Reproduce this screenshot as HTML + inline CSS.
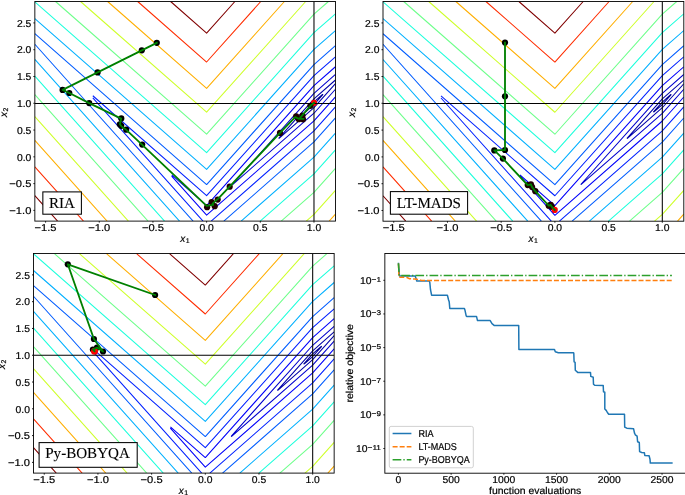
<!DOCTYPE html>
<html><head><meta charset="utf-8"><style>
html,body{margin:0;padding:0;background:#fff;}
body{width:685px;height:495px;overflow:hidden;}
svg{display:block;will-change:transform;}
text{stroke:#000;stroke-width:0.2px;text-rendering:geometricPrecision;}
</style></head><body>
<svg width="685" height="495" viewBox="0 0 685 495" font-family='"Liberation Sans", sans-serif' fill="#000">
<rect width="685" height="495" fill="#fff"/>
<clipPath id="c1"><rect x="34.85" y="1.5" width="300.6" height="219.6"/></clipPath>
<g clip-path="url(#c1)">
<path d="M305.39,112.09 305.16,111.84 313.98,101.98 322.57,94.44 322.8,94.7 313.98,104.55 305.39,112.09" stroke="#000096" stroke-width="1.05" fill="none" stroke-linejoin="round"/>
<path d="M335.45,83.69 313.98,107.68 279.09,138.32 278.87,138.08 279.09,137.84 279.31,137.81 279.35,137.54 313.98,98.85 335.45,79.99" stroke="#0000a8" stroke-width="1.05" fill="none" stroke-linejoin="round"/>
<path d="M335.45,89.23 313.98,113.23 232.92,184.4 232.69,184.14 313.98,93.3 335.45,74.45" stroke="#0000cd" stroke-width="1.05" fill="none" stroke-linejoin="round"/>
<path d="M335.45,96.95 313.98,120.94 206.62,215.21 171.63,176.11 M171.73,174.93 206.62,205.57 313.98,85.59 335.45,66.74" stroke="#0000fa" stroke-width="1.05" fill="none" stroke-linejoin="round"/>
<path d="M203.03,221.1 92.82,97.94 M92.82,95.74 206.62,195.66 313.98,75.68 335.45,56.83 M335.45,106.85 313.98,130.85 211.2,221.1" stroke="#0020ff" stroke-width="1.05" fill="none" stroke-linejoin="round"/>
<path d="M193.08,221.1 34.85,44.27 M335.45,117.97 313.98,141.96 223.85,221.1 M34.85,33.72 206.62,184.54 313.98,64.57 335.45,45.71" stroke="#005cff" stroke-width="1.05" fill="none" stroke-linejoin="round"/>
<path d="M179.49,221.1 34.85,59.45 M335.45,133.15 313.98,157.15 241.15,221.1 M34.85,18.53 206.62,169.36 313.98,49.38 335.45,30.53" stroke="#00b0ff" stroke-width="1.05" fill="none" stroke-linejoin="round"/>
<path d="M164.54,221.1 34.85,76.16 M335.45,149.86 313.98,173.86 260.18,221.1 M34.85,1.82 206.62,152.65 313.98,32.67 335.45,13.82" stroke="#1cffdb" stroke-width="1.05" fill="none" stroke-linejoin="round"/>
<path d="M148.01,221.1 34.85,94.64 M335.45,168.34 313.98,192.34 281.22,221.1 M55.53,1.5 206.62,134.17 313.98,14.19 328.44,1.5" stroke="#6dff8a" stroke-width="1.05" fill="none" stroke-linejoin="round"/>
<path d="M128.36,221.1 34.85,116.6 M335.45,190.3 313.98,214.3 306.23,221.1 M80.54,1.5 206.62,112.21 305.69,1.5" stroke="#ceff29" stroke-width="1.05" fill="none" stroke-linejoin="round"/>
<path d="M107.08,221.1 34.85,140.38 M335.45,214.08 329.17,221.1 M107.62,1.5 206.62,88.43 284.41,1.5" stroke="#ffae00" stroke-width="1.05" fill="none" stroke-linejoin="round"/>
<path d="M83.45,221.1 34.85,166.79 M137.69,1.5 206.62,62.02 260.78,1.5" stroke="#ff2d00" stroke-width="1.05" fill="none" stroke-linejoin="round"/>
<path d="M57.57,221.1 34.85,195.71 M170.63,1.5 206.62,33.1 234.9,1.5" stroke="#800000" stroke-width="1.05" fill="none" stroke-linejoin="round"/>
<line x1="313.98" y1="1.5" x2="313.98" y2="221.1" stroke="#000" stroke-width="1.05"/>
<circle cx="314" cy="102.8" r="3.1" fill="#ff0000"/>
<circle cx="156.8" cy="42.8" r="3.1" fill="#000000"/>
<circle cx="141.8" cy="50.3" r="3.1" fill="#000000"/>
<circle cx="97.6" cy="72.4" r="3.1" fill="#000000"/>
<circle cx="62.6" cy="89.9" r="3.1" fill="#000000"/>
<circle cx="69.3" cy="93" r="3.1" fill="#000000"/>
<circle cx="89.2" cy="103.1" r="3.1" fill="#000000"/>
<circle cx="121.3" cy="118.4" r="3.1" fill="#000000"/>
<circle cx="119.8" cy="124.3" r="3.1" fill="#000000"/>
<circle cx="121.2" cy="125.8" r="3.1" fill="#000000"/>
<circle cx="126.2" cy="129.7" r="3.1" fill="#000000"/>
<circle cx="142.2" cy="144.6" r="3.1" fill="#000000"/>
<circle cx="207.1" cy="207.2" r="3.1" fill="#200000"/>
<circle cx="211.6" cy="202.1" r="3.1" fill="#200000"/>
<circle cx="214.7" cy="206.2" r="3.1" fill="#200000"/>
<circle cx="217.7" cy="199.6" r="3.1" fill="#200000"/>
<circle cx="229.7" cy="186.7" r="3.1" fill="#200000"/>
<circle cx="280" cy="132.9" r="3.1" fill="#200000"/>
<circle cx="296.2" cy="116.3" r="3.1" fill="#200000"/>
<circle cx="298.8" cy="119.2" r="3.1" fill="#200000"/>
<circle cx="303" cy="119.3" r="3.1" fill="#200000"/>
<circle cx="302.5" cy="115.6" r="3.1" fill="#200000"/>
<circle cx="310.4" cy="105.8" r="3.1" fill="#200000"/>
<line x1="34.85" y1="103.47" x2="335.45" y2="103.47" stroke="#000" stroke-width="1.05"/>
<polyline points="156.8,42.8 141.8,50.3 97.6,72.4 62.6,89.9 69.3,93 89.2,103.1 121.2,118.6 120,124.3 121.6,126.5 126,129.6 142,144.6 206.6,205.8 213.2,204.9 212.6,203.6 218.2,198.6 229.6,186.6 280,132.9 295.2,117.2 299,118.8 303.6,118.8 299.5,118.6 310.4,105.8 314,102.8" fill="none" stroke="#008000" stroke-width="1.85" stroke-linejoin="round" stroke-linecap="square"/>
</g>
<rect x="42.85" y="191.9" width="38.55" height="22.3" fill="#fff" stroke="#000" stroke-width="1.05"/>
<text x="48.9" y="207.8" font-family='"Liberation Serif", serif' font-size="15.1" style="stroke-width:0.1px">RIA</text>
<rect x="34.85" y="1.5" width="300.6" height="219.6" fill="none" stroke="#000" stroke-width="0.9"/>
<line x1="45.59" y1="221.1" x2="45.59" y2="222.6" stroke="#000" stroke-width="0.9"/>
<text x="45.59" y="230.9" text-anchor="middle" font-size="10.0" textLength="21.98" lengthAdjust="spacingAndGlyphs">−1.5</text>
<line x1="99.26" y1="221.1" x2="99.26" y2="222.6" stroke="#000" stroke-width="0.9"/>
<text x="99.26" y="230.9" text-anchor="middle" font-size="10.0" textLength="21.98" lengthAdjust="spacingAndGlyphs">−1.0</text>
<line x1="152.94" y1="221.1" x2="152.94" y2="222.6" stroke="#000" stroke-width="0.9"/>
<text x="152.94" y="230.9" text-anchor="middle" font-size="10.0" textLength="21.98" lengthAdjust="spacingAndGlyphs">−0.5</text>
<line x1="206.62" y1="221.1" x2="206.62" y2="222.6" stroke="#000" stroke-width="0.9"/>
<text x="206.62" y="230.9" text-anchor="middle" font-size="10.0" textLength="14.39" lengthAdjust="spacingAndGlyphs">0.0</text>
<line x1="260.3" y1="221.1" x2="260.3" y2="222.6" stroke="#000" stroke-width="0.9"/>
<text x="260.3" y="230.9" text-anchor="middle" font-size="10.0" textLength="14.39" lengthAdjust="spacingAndGlyphs">0.5</text>
<line x1="313.98" y1="221.1" x2="313.98" y2="222.6" stroke="#000" stroke-width="0.9"/>
<text x="313.98" y="230.9" text-anchor="middle" font-size="10.0" textLength="14.39" lengthAdjust="spacingAndGlyphs">1.0</text>
<line x1="34.85" y1="22.92" x2="33.35" y2="22.92" stroke="#000" stroke-width="0.9"/>
<text x="31.35" y="26.67" text-anchor="end" font-size="10.0" textLength="14.39" lengthAdjust="spacingAndGlyphs">2.5</text>
<line x1="34.85" y1="49.7" x2="33.35" y2="49.7" stroke="#000" stroke-width="0.9"/>
<text x="31.35" y="53.45" text-anchor="end" font-size="10.0" textLength="14.39" lengthAdjust="spacingAndGlyphs">2.0</text>
<line x1="34.85" y1="76.49" x2="33.35" y2="76.49" stroke="#000" stroke-width="0.9"/>
<text x="31.35" y="80.24" text-anchor="end" font-size="10.0" textLength="14.39" lengthAdjust="spacingAndGlyphs">1.5</text>
<line x1="34.85" y1="103.27" x2="33.35" y2="103.27" stroke="#000" stroke-width="0.9"/>
<text x="31.35" y="107.02" text-anchor="end" font-size="10.0" textLength="14.39" lengthAdjust="spacingAndGlyphs">1.0</text>
<line x1="34.85" y1="130.05" x2="33.35" y2="130.05" stroke="#000" stroke-width="0.9"/>
<text x="31.35" y="133.8" text-anchor="end" font-size="10.0" textLength="14.39" lengthAdjust="spacingAndGlyphs">0.5</text>
<line x1="34.85" y1="156.83" x2="33.35" y2="156.83" stroke="#000" stroke-width="0.9"/>
<text x="31.35" y="160.58" text-anchor="end" font-size="10.0" textLength="14.39" lengthAdjust="spacingAndGlyphs">0.0</text>
<line x1="34.85" y1="183.61" x2="33.35" y2="183.61" stroke="#000" stroke-width="0.9"/>
<text x="31.35" y="187.36" text-anchor="end" font-size="10.0" textLength="21.98" lengthAdjust="spacingAndGlyphs">−0.5</text>
<line x1="34.85" y1="210.39" x2="33.35" y2="210.39" stroke="#000" stroke-width="0.9"/>
<text x="31.35" y="214.14" text-anchor="end" font-size="10.0" textLength="21.98" lengthAdjust="spacingAndGlyphs">−1.0</text>
<text x="180.15" y="241.9" font-size="10"><tspan font-style="italic">x</tspan><tspan font-size="6.9" dx="0.5" dy="1.2">1</tspan></text>
<text transform="translate(6.5,117) rotate(-90)" font-size="10"><tspan font-style="italic">x</tspan><tspan font-size="6.9" dx="0.5" dy="1.2">2</tspan></text>
<clipPath id="c2"><rect x="383" y="1.5" width="300.8" height="219.7"/></clipPath>
<g clip-path="url(#c2)">
<path d="M653.72,112.14 653.49,111.89 662.31,102.03 670.91,94.48 671.14,94.74 662.31,104.6 653.72,112.14" stroke="#000096" stroke-width="1.05" fill="none" stroke-linejoin="round"/>
<path d="M683.8,83.73 662.31,107.73 627.4,138.38 627.18,138.14 627.4,137.9 627.62,137.87 627.66,137.61 662.31,98.89 683.8,80.03" stroke="#0000a8" stroke-width="1.05" fill="none" stroke-linejoin="round"/>
<path d="M683.8,89.27 662.31,113.28 581.21,184.48 580.98,184.23 662.31,93.35 683.8,74.48" stroke="#0000cd" stroke-width="1.05" fill="none" stroke-linejoin="round"/>
<path d="M683.8,96.99 662.31,121 554.89,215.31 519.88,176.19 M519.97,175.01 554.89,205.66 662.31,85.63 683.8,66.77" stroke="#0000fa" stroke-width="1.05" fill="none" stroke-linejoin="round"/>
<path d="M551.29,221.2 441.01,97.99 M441.01,95.78 554.89,195.75 662.31,75.72 683.8,56.85 M683.8,106.9 662.31,130.91 559.46,221.2" stroke="#0020ff" stroke-width="1.05" fill="none" stroke-linejoin="round"/>
<path d="M541.34,221.2 383,44.29 M683.8,118.02 662.31,142.03 572.13,221.2 M383,33.73 554.89,184.63 662.31,64.6 683.8,45.73" stroke="#005cff" stroke-width="1.05" fill="none" stroke-linejoin="round"/>
<path d="M527.74,221.2 383,59.48 M683.8,133.21 662.31,157.22 589.43,221.2 M383,18.54 554.89,169.44 662.31,49.41 683.8,30.54" stroke="#00b0ff" stroke-width="1.05" fill="none" stroke-linejoin="round"/>
<path d="M512.78,221.2 383,76.2 M683.8,149.93 662.31,173.94 608.48,221.2 M383,1.82 554.89,152.72 662.31,32.69 683.8,13.82" stroke="#1cffdb" stroke-width="1.05" fill="none" stroke-linejoin="round"/>
<path d="M496.23,221.2 383,94.68 M683.8,168.42 662.31,192.42 629.54,221.2 M403.69,1.5 554.89,134.23 662.31,14.2 676.78,1.5" stroke="#6dff8a" stroke-width="1.05" fill="none" stroke-linejoin="round"/>
<path d="M476.57,221.2 383,116.65 M683.8,190.39 662.31,214.39 654.56,221.2 M428.72,1.5 554.89,112.26 654.02,1.5" stroke="#ceff29" stroke-width="1.05" fill="none" stroke-linejoin="round"/>
<path d="M455.27,221.2 383,140.45 M683.8,214.18 677.52,221.2 M455.82,1.5 554.89,88.47 632.72,1.5" stroke="#ffae00" stroke-width="1.05" fill="none" stroke-linejoin="round"/>
<path d="M431.63,221.2 383,166.86 M485.91,1.5 554.89,62.05 609.08,1.5" stroke="#ff2d00" stroke-width="1.05" fill="none" stroke-linejoin="round"/>
<path d="M405.73,221.2 383,195.8 M518.87,1.5 554.89,33.12 583.18,1.5" stroke="#800000" stroke-width="1.05" fill="none" stroke-linejoin="round"/>
<line x1="662.31" y1="1.5" x2="662.31" y2="221.2" stroke="#000" stroke-width="1.05"/>
<circle cx="505" cy="42.6" r="3.1" fill="#000000"/>
<circle cx="505" cy="96.3" r="3.1" fill="#000000"/>
<circle cx="505" cy="150" r="3.1" fill="#000000"/>
<circle cx="494.3" cy="150.4" r="3.1" fill="#000000"/>
<circle cx="502.9" cy="158.6" r="3.1" fill="#000000"/>
<circle cx="527.7" cy="185.1" r="3.1" fill="#200000"/>
<circle cx="530.9" cy="184.3" r="3.1" fill="#200000"/>
<circle cx="532.1" cy="187.1" r="3.1" fill="#200000"/>
<circle cx="535.3" cy="191.2" r="3.1" fill="#200000"/>
<circle cx="548.7" cy="205.7" r="3.1" fill="#200000"/>
<circle cx="550.7" cy="204.9" r="3.1" fill="#200000"/>
<circle cx="551.9" cy="206.9" r="3.1" fill="#200000"/>
<circle cx="554.7" cy="209.9" r="3.1" fill="#ff0000"/>
<line x1="383" y1="103.51" x2="683.8" y2="103.51" stroke="#000" stroke-width="1.05"/>
<polyline points="505,42.6 505,96.3 505,150 494.3,150.4 502.9,158.6 527.7,185.1 530.9,184.3 532.1,187.1 535.3,191.2 548.7,205.7 550.7,204.9 551.9,206.9 554.7,209.9" fill="none" stroke="#008000" stroke-width="1.85" stroke-linejoin="round" stroke-linecap="square"/>
</g>
<rect x="390.4" y="191.6" width="77.2" height="22.6" fill="#fff" stroke="#000" stroke-width="1.05"/>
<text x="396.7" y="207.7" font-family='"Liberation Serif", serif' font-size="15.1" style="stroke-width:0.1px">LT-MADS</text>
<rect x="383" y="1.5" width="300.8" height="219.7" fill="none" stroke="#000" stroke-width="0.9"/>
<line x1="393.74" y1="221.2" x2="393.74" y2="222.7" stroke="#000" stroke-width="0.9"/>
<text x="393.74" y="231" text-anchor="middle" font-size="10.0" textLength="21.98" lengthAdjust="spacingAndGlyphs">−1.5</text>
<line x1="447.46" y1="221.2" x2="447.46" y2="222.7" stroke="#000" stroke-width="0.9"/>
<text x="447.46" y="231" text-anchor="middle" font-size="10.0" textLength="21.98" lengthAdjust="spacingAndGlyphs">−1.0</text>
<line x1="501.17" y1="221.2" x2="501.17" y2="222.7" stroke="#000" stroke-width="0.9"/>
<text x="501.17" y="231" text-anchor="middle" font-size="10.0" textLength="21.98" lengthAdjust="spacingAndGlyphs">−0.5</text>
<line x1="554.89" y1="221.2" x2="554.89" y2="222.7" stroke="#000" stroke-width="0.9"/>
<text x="554.89" y="231" text-anchor="middle" font-size="10.0" textLength="14.39" lengthAdjust="spacingAndGlyphs">0.0</text>
<line x1="608.6" y1="221.2" x2="608.6" y2="222.7" stroke="#000" stroke-width="0.9"/>
<text x="608.6" y="231" text-anchor="middle" font-size="10.0" textLength="14.39" lengthAdjust="spacingAndGlyphs">0.5</text>
<line x1="662.31" y1="221.2" x2="662.31" y2="222.7" stroke="#000" stroke-width="0.9"/>
<text x="662.31" y="231" text-anchor="middle" font-size="10.0" textLength="14.39" lengthAdjust="spacingAndGlyphs">1.0</text>
<line x1="383" y1="22.93" x2="381.5" y2="22.93" stroke="#000" stroke-width="0.9"/>
<text x="379.5" y="26.68" text-anchor="end" font-size="10.0" textLength="14.39" lengthAdjust="spacingAndGlyphs">2.5</text>
<line x1="383" y1="49.73" x2="381.5" y2="49.73" stroke="#000" stroke-width="0.9"/>
<text x="379.5" y="53.48" text-anchor="end" font-size="10.0" textLength="14.39" lengthAdjust="spacingAndGlyphs">2.0</text>
<line x1="383" y1="76.52" x2="381.5" y2="76.52" stroke="#000" stroke-width="0.9"/>
<text x="379.5" y="80.27" text-anchor="end" font-size="10.0" textLength="14.39" lengthAdjust="spacingAndGlyphs">1.5</text>
<line x1="383" y1="103.31" x2="381.5" y2="103.31" stroke="#000" stroke-width="0.9"/>
<text x="379.5" y="107.06" text-anchor="end" font-size="10.0" textLength="14.39" lengthAdjust="spacingAndGlyphs">1.0</text>
<line x1="383" y1="130.1" x2="381.5" y2="130.1" stroke="#000" stroke-width="0.9"/>
<text x="379.5" y="133.85" text-anchor="end" font-size="10.0" textLength="14.39" lengthAdjust="spacingAndGlyphs">0.5</text>
<line x1="383" y1="156.9" x2="381.5" y2="156.9" stroke="#000" stroke-width="0.9"/>
<text x="379.5" y="160.65" text-anchor="end" font-size="10.0" textLength="14.39" lengthAdjust="spacingAndGlyphs">0.0</text>
<line x1="383" y1="183.69" x2="381.5" y2="183.69" stroke="#000" stroke-width="0.9"/>
<text x="379.5" y="187.44" text-anchor="end" font-size="10.0" textLength="21.98" lengthAdjust="spacingAndGlyphs">−0.5</text>
<line x1="383" y1="210.48" x2="381.5" y2="210.48" stroke="#000" stroke-width="0.9"/>
<text x="379.5" y="214.23" text-anchor="end" font-size="10.0" textLength="21.98" lengthAdjust="spacingAndGlyphs">−1.0</text>
<text x="528.4" y="242" font-size="10"><tspan font-style="italic">x</tspan><tspan font-size="6.9" dx="0.5" dy="1.2">1</tspan></text>
<text transform="translate(354.65,117.05) rotate(-90)" font-size="10"><tspan font-style="italic">x</tspan><tspan font-size="6.9" dx="0.5" dy="1.2">2</tspan></text>
<clipPath id="c3"><rect x="33.5" y="253.45" width="300.65" height="219.65"/></clipPath>
<g clip-path="url(#c3)">
<path d="M304.08,364.07 303.85,363.81 312.68,353.95 321.27,346.41 321.5,346.67 312.68,356.52 304.08,364.07" stroke="#000096" stroke-width="1.05" fill="none" stroke-linejoin="round"/>
<path d="M334.15,335.66 312.68,359.66 277.78,390.3 277.56,390.06 277.78,389.82 278,389.79 278.04,389.53 312.68,350.82 334.15,331.96" stroke="#0000a8" stroke-width="1.05" fill="none" stroke-linejoin="round"/>
<path d="M334.15,341.2 312.68,365.2 231.61,436.39 231.38,436.13 312.68,345.27 334.15,326.42" stroke="#0000cd" stroke-width="1.05" fill="none" stroke-linejoin="round"/>
<path d="M334.15,348.92 312.68,372.92 205.3,467.21 170.31,428.1 M170.4,426.92 205.3,457.56 312.68,337.56 334.15,318.7" stroke="#0000fa" stroke-width="1.05" fill="none" stroke-linejoin="round"/>
<path d="M201.7,473.1 91.48,349.91 M91.48,347.71 205.3,447.65 312.67,327.65 334.15,308.79 M334.15,358.83 312.68,382.83 209.88,473.1" stroke="#0020ff" stroke-width="1.05" fill="none" stroke-linejoin="round"/>
<path d="M191.76,473.1 33.5,296.23 M334.15,369.94 312.68,393.95 222.53,473.1 M33.5,285.67 205.3,436.54 312.68,316.53 334.15,297.67" stroke="#005cff" stroke-width="1.05" fill="none" stroke-linejoin="round"/>
<path d="M178.17,473.1 33.5,311.42 M334.15,385.13 312.68,409.13 239.83,473.1 M33.5,270.49 205.3,421.35 312.68,301.34 334.15,282.49" stroke="#00b0ff" stroke-width="1.05" fill="none" stroke-linejoin="round"/>
<path d="M163.21,473.1 33.5,328.13 M334.15,401.85 312.68,425.85 258.87,473.1 M33.5,253.77 205.3,404.63 312.68,284.63 334.15,265.77" stroke="#1cffdb" stroke-width="1.05" fill="none" stroke-linejoin="round"/>
<path d="M146.68,473.1 33.5,346.61 M334.15,420.33 312.68,444.33 279.91,473.1 M54.18,253.45 205.3,386.15 312.68,266.15 327.13,253.45" stroke="#6dff8a" stroke-width="1.05" fill="none" stroke-linejoin="round"/>
<path d="M127.02,473.1 33.5,368.58 M334.15,442.3 312.68,466.3 304.93,473.1 M79.2,253.45 205.3,364.19 304.38,253.45" stroke="#ceff29" stroke-width="1.05" fill="none" stroke-linejoin="round"/>
<path d="M105.74,473.1 33.5,392.37 M334.15,466.08 327.87,473.1 M106.28,253.45 205.3,340.4 283.1,253.45" stroke="#ffae00" stroke-width="1.05" fill="none" stroke-linejoin="round"/>
<path d="M82.11,473.1 33.5,418.78 M136.36,253.45 205.3,313.99 259.47,253.45" stroke="#ff2d00" stroke-width="1.05" fill="none" stroke-linejoin="round"/>
<path d="M56.22,473.1 33.5,447.71 M169.3,253.45 205.3,285.06 233.58,253.45" stroke="#800000" stroke-width="1.05" fill="none" stroke-linejoin="round"/>
<line x1="312.68" y1="253.45" x2="312.68" y2="473.1" stroke="#000" stroke-width="1.05"/>
<circle cx="155.1" cy="295" r="3.1" fill="#000000"/>
<circle cx="67.8" cy="264.3" r="3.1" fill="#000000"/>
<circle cx="93.9" cy="339" r="3.1" fill="#000000"/>
<circle cx="103" cy="351.5" r="3.1" fill="#000000"/>
<circle cx="97" cy="347.6" r="3.1" fill="#000000"/>
<circle cx="92.9" cy="349.6" r="3.1" fill="#000000"/>
<circle cx="94.5" cy="351.2" r="3.5" fill="#ff0000"/>
<line x1="33.5" y1="355.24" x2="334.15" y2="355.24" stroke="#000" stroke-width="1.05"/>
<polyline points="155.1,295 67.8,264.3 93.9,339 103,351.5 97,347.6 92.9,349.6 94.5,351.2" fill="none" stroke="#008000" stroke-width="1.85" stroke-linejoin="round" stroke-linecap="square"/>
</g>
<rect x="39.1" y="442.6" width="98.1" height="24.7" fill="#fff" stroke="#000" stroke-width="1.05"/>
<text x="45.2" y="458.4" font-family='"Liberation Serif", serif' font-size="15.1" style="stroke-width:0.1px">Py-BOBYQA</text>
<rect x="33.5" y="253.45" width="300.65" height="219.65" fill="none" stroke="#000" stroke-width="0.9"/>
<line x1="44.24" y1="473.1" x2="44.24" y2="474.6" stroke="#000" stroke-width="0.9"/>
<text x="44.24" y="482.9" text-anchor="middle" font-size="10.0" textLength="21.98" lengthAdjust="spacingAndGlyphs">−1.5</text>
<line x1="97.93" y1="473.1" x2="97.93" y2="474.6" stroke="#000" stroke-width="0.9"/>
<text x="97.93" y="482.9" text-anchor="middle" font-size="10.0" textLength="21.98" lengthAdjust="spacingAndGlyphs">−1.0</text>
<line x1="151.61" y1="473.1" x2="151.61" y2="474.6" stroke="#000" stroke-width="0.9"/>
<text x="151.61" y="482.9" text-anchor="middle" font-size="10.0" textLength="21.98" lengthAdjust="spacingAndGlyphs">−0.5</text>
<line x1="205.3" y1="473.1" x2="205.3" y2="474.6" stroke="#000" stroke-width="0.9"/>
<text x="205.3" y="482.9" text-anchor="middle" font-size="10.0" textLength="14.39" lengthAdjust="spacingAndGlyphs">0.0</text>
<line x1="258.99" y1="473.1" x2="258.99" y2="474.6" stroke="#000" stroke-width="0.9"/>
<text x="258.99" y="482.9" text-anchor="middle" font-size="10.0" textLength="14.39" lengthAdjust="spacingAndGlyphs">0.5</text>
<line x1="312.68" y1="473.1" x2="312.68" y2="474.6" stroke="#000" stroke-width="0.9"/>
<text x="312.68" y="482.9" text-anchor="middle" font-size="10.0" textLength="14.39" lengthAdjust="spacingAndGlyphs">1.0</text>
<line x1="33.5" y1="274.88" x2="32" y2="274.88" stroke="#000" stroke-width="0.9"/>
<text x="30" y="278.63" text-anchor="end" font-size="10.0" textLength="14.39" lengthAdjust="spacingAndGlyphs">2.5</text>
<line x1="33.5" y1="301.67" x2="32" y2="301.67" stroke="#000" stroke-width="0.9"/>
<text x="30" y="305.42" text-anchor="end" font-size="10.0" textLength="14.39" lengthAdjust="spacingAndGlyphs">2.0</text>
<line x1="33.5" y1="328.45" x2="32" y2="328.45" stroke="#000" stroke-width="0.9"/>
<text x="30" y="332.2" text-anchor="end" font-size="10.0" textLength="14.39" lengthAdjust="spacingAndGlyphs">1.5</text>
<line x1="33.5" y1="355.24" x2="32" y2="355.24" stroke="#000" stroke-width="0.9"/>
<text x="30" y="358.99" text-anchor="end" font-size="10.0" textLength="14.39" lengthAdjust="spacingAndGlyphs">1.0</text>
<line x1="33.5" y1="382.03" x2="32" y2="382.03" stroke="#000" stroke-width="0.9"/>
<text x="30" y="385.78" text-anchor="end" font-size="10.0" textLength="14.39" lengthAdjust="spacingAndGlyphs">0.5</text>
<line x1="33.5" y1="408.81" x2="32" y2="408.81" stroke="#000" stroke-width="0.9"/>
<text x="30" y="412.56" text-anchor="end" font-size="10.0" textLength="14.39" lengthAdjust="spacingAndGlyphs">0.0</text>
<line x1="33.5" y1="435.6" x2="32" y2="435.6" stroke="#000" stroke-width="0.9"/>
<text x="30" y="439.35" text-anchor="end" font-size="10.0" textLength="21.98" lengthAdjust="spacingAndGlyphs">−0.5</text>
<line x1="33.5" y1="462.39" x2="32" y2="462.39" stroke="#000" stroke-width="0.9"/>
<text x="30" y="466.14" text-anchor="end" font-size="10.0" textLength="21.98" lengthAdjust="spacingAndGlyphs">−1.0</text>
<text x="178.82" y="493.9" font-size="10"><tspan font-style="italic">x</tspan><tspan font-size="6.9" dx="0.5" dy="1.2">1</tspan></text>
<text transform="translate(5.15,368.97) rotate(-90)" font-size="10"><tspan font-style="italic">x</tspan><tspan font-size="6.9" dx="0.5" dy="1.2">2</tspan></text>
<clipPath id="c4"><rect x="384.85" y="253.5" width="301.65" height="219.7"/></clipPath>
<g clip-path="url(#c4)">
<polyline points="398.5,263.5 399.5,276 415.2,276 416.8,281 429.3,281 429.8,282.4 430.5,289.7 431.6,295.2 447.4,295.2 448.6,300 449.2,301.8 449.8,308.5 464.4,308.5 465,310.3 466.2,315.8 466.6,316.4 476.5,316.4 477.5,320.6 490.2,320.6 492,323.6 494.4,325.6 518.7,325.6 518.9,349.6 554.5,349.6 555.3,351.8 558.3,352.7 573.5,352.7 573.8,353.3 574.1,361.8 575.1,362.4 575.3,370.3 577.7,372.4 590.5,372.6 590.8,376.4 593.2,377.3 593.5,384.2 594.7,385.3 603.2,385.4 603.5,391.7 604.8,392.2 604.8,409 606.2,410.4 607.4,412.5 608.7,414.2 624.5,414.2 624.7,427.1 626.8,428.2 633.6,428.8 634.5,433.1 635.3,434.8 637.1,436.2 637.6,441.7 639.3,442.5 639.6,451.6 641.7,452.5 644.4,452.8 644.8,455.4 649.1,455.7 650,459.2 650.3,463.1 671.9,463.1" fill="none" stroke="#1f77b4" stroke-width="1.5" stroke-linejoin="round" stroke-linecap="square"/>
<polyline points="398.5,263.5 398.9,277.2 406.5,277.3 409.5,278.7 415,279 418,279.6 421.5,280.4 671.9,280.4" fill="none" stroke="#ff7f0e" stroke-width="1.5" stroke-dasharray="5.0,2.05"/>
<polyline points="398.4,263.4 399.2,275.5 671.9,275.5" fill="none" stroke="#2ca02c" stroke-width="1.5" stroke-dasharray="8.7,2.05,1.35,2.05"/>
</g>
<rect x="384.85" y="253.5" width="301.65" height="219.7" fill="none" stroke="#000" stroke-width="0.9"/>
<line x1="398.4" y1="473.2" x2="398.4" y2="474.7" stroke="#000" stroke-width="0.9"/>
<text x="398.4" y="482.8" text-anchor="middle" font-size="10.0" textLength="5.76" lengthAdjust="spacingAndGlyphs">0</text>
<line x1="451.13" y1="473.2" x2="451.13" y2="474.7" stroke="#000" stroke-width="0.9"/>
<text x="451.13" y="482.8" text-anchor="middle" font-size="10.0" textLength="17.27" lengthAdjust="spacingAndGlyphs">500</text>
<line x1="503.86" y1="473.2" x2="503.86" y2="474.7" stroke="#000" stroke-width="0.9"/>
<text x="503.86" y="482.8" text-anchor="middle" font-size="10.0" textLength="23.03" lengthAdjust="spacingAndGlyphs">1000</text>
<line x1="556.59" y1="473.2" x2="556.59" y2="474.7" stroke="#000" stroke-width="0.9"/>
<text x="556.59" y="482.8" text-anchor="middle" font-size="10.0" textLength="23.03" lengthAdjust="spacingAndGlyphs">1500</text>
<line x1="609.32" y1="473.2" x2="609.32" y2="474.7" stroke="#000" stroke-width="0.9"/>
<text x="609.32" y="482.8" text-anchor="middle" font-size="10.0" textLength="23.03" lengthAdjust="spacingAndGlyphs">2000</text>
<line x1="662.05" y1="473.2" x2="662.05" y2="474.7" stroke="#000" stroke-width="0.9"/>
<text x="662.05" y="482.8" text-anchor="middle" font-size="10.0" textLength="23.03" lengthAdjust="spacingAndGlyphs">2500</text>
<line x1="384.85" y1="280.3" x2="383.35" y2="280.3" stroke="#000" stroke-width="0.9"/>
<text x="360.1" y="283.8" font-size="10.0" textLength="11.52" lengthAdjust="spacingAndGlyphs">10</text>
<text x="371.61" y="281.7" font-size="7.00" textLength="9.34" lengthAdjust="spacingAndGlyphs">−1</text>
<line x1="384.85" y1="313.94" x2="383.35" y2="313.94" stroke="#000" stroke-width="0.9"/>
<text x="360.1" y="317.44" font-size="10.0" textLength="11.52" lengthAdjust="spacingAndGlyphs">10</text>
<text x="371.61" y="315.34" font-size="7.00" textLength="9.34" lengthAdjust="spacingAndGlyphs">−3</text>
<line x1="384.85" y1="347.58" x2="383.35" y2="347.58" stroke="#000" stroke-width="0.9"/>
<text x="360.1" y="351.08" font-size="10.0" textLength="11.52" lengthAdjust="spacingAndGlyphs">10</text>
<text x="371.61" y="348.98" font-size="7.00" textLength="9.34" lengthAdjust="spacingAndGlyphs">−5</text>
<line x1="384.85" y1="381.22" x2="383.35" y2="381.22" stroke="#000" stroke-width="0.9"/>
<text x="360.1" y="384.72" font-size="10.0" textLength="11.52" lengthAdjust="spacingAndGlyphs">10</text>
<text x="371.61" y="382.62" font-size="7.00" textLength="9.34" lengthAdjust="spacingAndGlyphs">−7</text>
<line x1="384.85" y1="414.86" x2="383.35" y2="414.86" stroke="#000" stroke-width="0.9"/>
<text x="360.1" y="418.36" font-size="10.0" textLength="11.52" lengthAdjust="spacingAndGlyphs">10</text>
<text x="371.61" y="416.26" font-size="7.00" textLength="9.34" lengthAdjust="spacingAndGlyphs">−9</text>
<line x1="384.85" y1="448.5" x2="383.35" y2="448.5" stroke="#000" stroke-width="0.9"/>
<text x="356.07" y="452" font-size="10.0" textLength="11.52" lengthAdjust="spacingAndGlyphs">10</text>
<text x="367.58" y="449.9" font-size="7.00" textLength="13.37" lengthAdjust="spacingAndGlyphs">−11</text>
<text x="535.17" y="493.5" text-anchor="middle" font-size="10.0" textLength="92.16" lengthAdjust="spacingAndGlyphs">function evaluations</text>
<text transform="translate(352.7,363.35) rotate(-90)" text-anchor="middle" font-size="10.0" textLength="78.34" lengthAdjust="spacingAndGlyphs">relative objective</text>
<rect x="389.3" y="426.4" width="84" height="41.4" rx="1.8" fill="#fff" fill-opacity="0.8" stroke="#cccccc" stroke-width="0.9"/>
<line x1="392.6" y1="433.5" x2="411.4" y2="433.5" stroke="#1f77b4" stroke-width="1.5"/>
<text x="418.4" y="436.8" font-size="10.0" textLength="15.15" lengthAdjust="spacingAndGlyphs">RIA</text>
<line x1="392.6" y1="446.65" x2="411.4" y2="446.65" stroke="#ff7f0e" stroke-width="1.5" stroke-dasharray="5.0,2.05"/>
<text x="418.4" y="449.95" font-size="10.0" textLength="38.47" lengthAdjust="spacingAndGlyphs">LT-MADS</text>
<line x1="392.6" y1="459.8" x2="411.4" y2="459.8" stroke="#2ca02c" stroke-width="1.5" stroke-dasharray="8.7,2.05,1.35,2.05"/>
<text x="418.4" y="463.1" font-size="10.0" textLength="51.33" lengthAdjust="spacingAndGlyphs">Py-BOBYQA</text>
</svg>
</body></html>
